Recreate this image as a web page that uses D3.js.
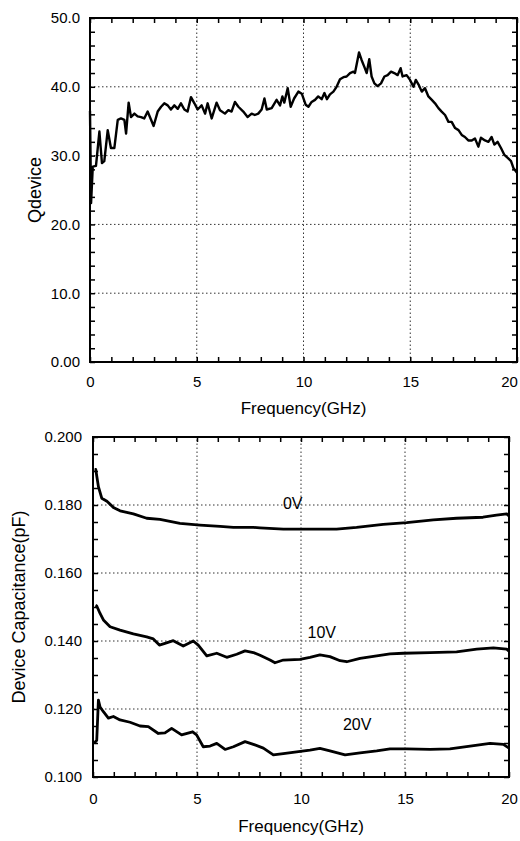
<!DOCTYPE html>
<html>
<head>
<meta charset="utf-8">
<script src="https://cdn.jsdelivr.net/npm/d3@7"></script>
<style>
  body { margin: 0; background: #fff; }
  svg text { font-family: "Liberation Sans", Arial, Helvetica, sans-serif; fill: #000; }
</style>
</head>
<body>
<svg id="chart" width="520" height="841"></svg>
<script>
// Q of the device vs frequency (top panel)
var qFreq = [0.0, 0.05, 0.13, 0.28, 0.44, 0.56, 0.67, 0.83, 0.98, 1.14, 1.30, 1.45, 1.61, 1.69, 1.81, 1.92, 2.08, 2.23, 2.39, 2.54,
  2.70, 2.86, 2.98, 3.17, 3.33, 3.48, 3.64, 3.79, 3.95, 4.11, 4.26, 4.42, 4.57, 4.73, 4.89, 5.04, 5.23, 5.39, 5.51, 5.70,
  5.93, 6.09, 6.32, 6.48, 6.63, 6.79, 6.95, 7.18, 7.38, 7.57, 7.72, 7.88, 8.04, 8.17, 8.28, 8.51, 8.74, 8.90, 9.01, 9.10,
  9.26, 9.40, 9.56, 9.76, 9.92, 10.10, 10.23, 10.38, 10.54, 10.69, 10.85, 10.98, 11.10, 11.24, 11.40, 11.55, 11.71, 11.87, 12.02, 12.18,
  12.34, 12.41, 12.60, 12.72, 12.85, 12.96, 13.08, 13.19, 13.32, 13.47, 13.63, 13.79, 13.94, 14.10, 14.25, 14.41, 14.55, 14.64, 14.83, 14.99,
  15.07, 15.15, 15.26, 15.41, 15.54, 15.69, 15.85, 16.01, 16.16, 16.32, 16.47, 16.63, 16.79, 16.94, 17.10, 17.26, 17.41, 17.56, 17.72, 17.88,
  18.03, 18.19, 18.31, 18.50, 18.66, 18.81, 18.94, 19.09, 19.25, 19.41, 19.59, 19.72, 19.83, 20.0];
var qVal = [36.5, 23.1, 28.4, 28.5, 33.5, 28.9, 29.2, 33.7, 31.1, 31.1, 35.2, 35.4, 35.2, 33.2, 37.7, 35.6, 36.1, 35.7, 35.6, 35.4,
  36.4, 35.2, 34.3, 36.4, 37.1, 37.6, 37.3, 36.7, 37.3, 36.8, 37.6, 36.7, 36.4, 38.5, 37.6, 36.7, 37.3, 36.1, 37.6, 35.4,
  37.7, 36.6, 36.1, 36.6, 36.4, 37.8, 37.1, 36.4, 35.6, 36.1, 35.9, 36.1, 36.7, 38.3, 36.7, 36.9, 38.1, 37.3, 38.6, 37.7,
  39.8, 37.1, 38.3, 39.3, 39.0, 37.4, 37.1, 37.8, 38.1, 38.6, 38.2, 39.1, 38.2, 38.9, 39.3, 40.0, 41.1, 41.4, 41.5, 42.0,
  42.2, 42.0, 45.0, 43.9, 42.9, 42.0, 44.0, 41.5, 40.5, 40.1, 40.5, 41.5, 41.7, 42.2, 42.0, 41.7, 42.7, 41.5, 41.7, 41.0,
  40.5, 40.0, 41.0, 40.2, 39.3, 39.8, 38.6, 38.1, 37.6, 36.9, 36.4, 35.9, 34.9, 34.9, 34.0, 33.7, 33.0, 32.7, 32.2, 32.2,
  32.5, 31.3, 32.6, 32.2, 32.0, 32.7, 31.6, 32.0, 31.1, 30.1, 29.6, 29.2, 28.2, 27.5];

// capacitance vs frequency (bottom panel), one pair of arrays per bias
var c0Freq = [0.08, 0.13, 0.26, 0.42, 0.67, 0.98, 1.30, 1.94, 2.58, 3.22, 4.18, 5.14, 6.11, 6.75, 7.71, 8.03, 9.15, 10.10, 11.71, 12.67,
  13.95, 15.08, 16.36, 17.48, 18.75, 19.40, 19.89, 20.0];
var c0Val = [0.1905, 0.1905, 0.1854, 0.1820, 0.1811, 0.1793, 0.1783, 0.1774, 0.1761, 0.1758, 0.1746, 0.1741, 0.1737, 0.1734, 0.1734, 0.1733, 0.1729, 0.1729, 0.1729, 0.1734,
  0.1743, 0.1748, 0.1756, 0.1761, 0.1764, 0.1770, 0.1774, 0.1768];

var c10Freq = [0.12, 0.18, 0.34, 0.50, 0.82, 1.30, 1.94, 2.58, 2.90, 3.19, 3.46, 3.86, 4.34, 4.82, 5.06, 5.47, 5.95, 6.43, 6.91, 7.31,
  7.71, 8.03, 8.51, 8.75, 9.15, 9.95, 10.43, 10.91, 11.39, 11.88, 12.20, 12.84, 13.64, 14.28, 14.92, 16.20, 17.48, 18.45, 19.25, 19.89, 20.0];
var c10Val = [0.1505, 0.1503, 0.1481, 0.1462, 0.1442, 0.1432, 0.1421, 0.1412, 0.1406, 0.1388, 0.1393, 0.1401, 0.1385, 0.1400, 0.1388, 0.1356, 0.1364, 0.1352, 0.1361, 0.1371,
  0.1366, 0.1358, 0.1344, 0.1336, 0.1344, 0.1346, 0.1352, 0.1359, 0.1354, 0.1342, 0.1339, 0.1349, 0.1356, 0.1362, 0.1364, 0.1366, 0.1368, 0.1376, 0.1380, 0.1376, 0.1370];

var c20Freq = [0.05, 0.18, 0.26, 0.34, 0.50, 0.74, 0.98, 1.30, 1.78, 2.26, 2.66, 3.14, 3.46, 3.78, 4.26, 4.79, 4.98, 5.30, 5.63, 5.95,
  6.35, 6.75, 7.31, 7.71, 8.19, 8.67, 9.15, 9.79, 10.43, 10.91, 11.39, 12.12, 12.84, 13.64, 14.28, 15.08, 16.20, 17.16, 18.13, 19.09, 19.73, 20.0];
var c20Val = [0.1099, 0.1108, 0.1226, 0.1206, 0.1192, 0.1173, 0.1178, 0.1168, 0.1161, 0.1150, 0.1148, 0.1128, 0.1130, 0.1143, 0.1124, 0.1133, 0.1124, 0.1089, 0.1091, 0.1099,
  0.1081, 0.1089, 0.1104, 0.1096, 0.1085, 0.1065, 0.1069, 0.1074, 0.1079, 0.1084, 0.1077, 0.1065, 0.1071, 0.1077, 0.1083, 0.1083, 0.1081, 0.1083, 0.1091, 0.1099, 0.1096, 0.1085];

var biasLabels = ["0V", "10V", "20V"];
var biasLabelPos = [[9.6, 0.1788], [11.0, 0.1409], [12.7, 0.1138]]; // baseline of each label, in data units

var freqTicks = [0, 5, 10, 15, 20];
var qTicks = [0, 10, 20, 30, 40, 50];
var qTickLabels = ["0.00", "10.0", "20.0", "30.0", "40.0", "50.0"];
var cTicks = [0.10, 0.12, 0.14, 0.16, 0.18, 0.20];
var cTickLabels = ["0.100", "0.120", "0.140", "0.160", "0.180", "0.200"];

var svg = d3.select("#chart");

function drawPanel(p) {
  var x = d3.scaleLinear().domain([0, 20]).range(p.xr);
  var y = d3.scaleLinear().domain(p.yDomain).range(p.yr);
  var g = svg.append("g");

  // dotted grid at the inner major ticks
  g.append("g").selectAll("line")
    .data(freqTicks.slice(1, -1))
    .enter().append("line")
    .attr("x1", d => x(d)).attr("x2", d => x(d))
    .attr("y1", p.yr[0]).attr("y2", p.yr[1])
    .attr("stroke", "#333").attr("stroke-width", 1).attr("stroke-dasharray", "1.5,2.5");
  g.append("g").selectAll("line")
    .data(p.yTicks.slice(1, -1))
    .enter().append("line")
    .attr("y1", d => y(d)).attr("y2", d => y(d))
    .attr("x1", p.xr[0]).attr("x2", p.xr[1])
    .attr("stroke", "#333").attr("stroke-width", 1).attr("stroke-dasharray", "1.5,2.5");

  // minor ticks on all four sides, pointing in
  var xMinor = d3.range(0, 20.01, 1);
  var yMinor = d3.range(p.yDomain[0], p.yDomain[1] + p.yMinorStep / 2, p.yMinorStep);
  function ticks(axis, tr) {
    g.append("g").attr("transform", tr)
      .call(axis.tickFormat("").tickSizeInner(-5).tickSizeOuter(0))
      .call(a => a.select(".domain").remove())
      .selectAll("line").attr("stroke", "#000").attr("stroke-width", 1.5);
  }
  ticks(d3.axisBottom(x).tickValues(xMinor), "translate(0," + p.yr[0] + ")");
  ticks(d3.axisTop(x).tickValues(xMinor), "translate(0," + p.yr[1] + ")");
  ticks(d3.axisLeft(y).tickValues(yMinor), "translate(" + p.xr[0] + ",0)");
  ticks(d3.axisRight(y).tickValues(yMinor), "translate(" + p.xr[1] + ",0)");

  // tick labels
  g.append("g").attr("transform", "translate(0," + p.yr[0] + ")")
    .call(d3.axisBottom(x).tickValues(freqTicks).tickFormat(d3.format("d")).tickSize(0).tickPadding(p.xPad))
    .call(a => a.select(".domain").remove())
    .selectAll("text").style("font-size", "15px").attr("fill", "#000")
    .attr("dx", d => d === 20 ? p.lastDx : 0);
  g.append("g").attr("transform", "translate(" + p.xr[0] + ",0)")
    .call(d3.axisLeft(y).tickValues(p.yTicks).tickFormat((d, i) => p.yLabels[i]).tickSize(0).tickPadding(p.yPad))
    .call(a => a.select(".domain").remove())
    .selectAll("text").style("font-size", "15px").attr("fill", "#000");

  // frame
  g.append("rect")
    .attr("x", p.xr[0]).attr("y", p.yr[1])
    .attr("width", p.xr[1] - p.xr[0]).attr("height", p.yr[0] - p.yr[1])
    .attr("fill", "none").attr("stroke", "#000").attr("stroke-width", 2);

  // series
  var line = d3.line().x(d => x(d[0])).y(d => y(d[1]));
  p.series.forEach(function (s) {
    g.append("path")
      .datum(d3.zip(s[0], s[1]))
      .attr("d", line)
      .attr("fill", "none").attr("stroke", "#000")
      .attr("stroke-width", p.lineW).attr("stroke-linejoin", "round");
  });

  // axis titles
  g.append("text")
    .attr("x", (p.xr[0] + p.xr[1]) / 2).attr("y", p.xTitleY)
    .attr("text-anchor", "middle").style("font-size", "17px")
    .text("Frequency(GHz)");
  g.append("text")
    .attr("transform", "translate(" + p.yTitleX + "," + ((p.yr[0] + p.yr[1]) / 2) + ") rotate(-90)")
    .attr("text-anchor", "middle").style("font-size", "18px")
    .text(p.yTitle);

  return { x: x, y: y, g: g };
}

drawPanel({
  xr: [90, 517], yr: [362, 18], yDomain: [0, 50], yTicks: qTicks, yLabels: qTickLabels, yMinorStep: 2,
  xPad: 14, yPad: 10, lineW: 2.4, lastDx: -8, xTitleY: 414, yTitleX: 41, yTitle: "Qdevice",
  series: [[qFreq, qVal]]
});

var bottom = drawPanel({
  xr: [93, 509], yr: [777, 437], yDomain: [0.1, 0.2], yTicks: cTicks, yLabels: cTickLabels, yMinorStep: 0.005,
  xPad: 16, yPad: 11, lineW: 2.8, lastDx: 0, xTitleY: 832, yTitleX: 25, yTitle: "Device Capacitance(pF)",
  series: [[c0Freq, c0Val], [c10Freq, c10Val], [c20Freq, c20Val]]
});

bottom.g.append("g").selectAll("text")
  .data(biasLabels)
  .enter().append("text")
  .attr("x", (d, i) => bottom.x(biasLabelPos[i][0]))
  .attr("y", (d, i) => bottom.y(biasLabelPos[i][1]))
  .attr("text-anchor", "middle")
  .style("font-size", "16px")
  .text(d => d);
</script>
</body>
</html>
